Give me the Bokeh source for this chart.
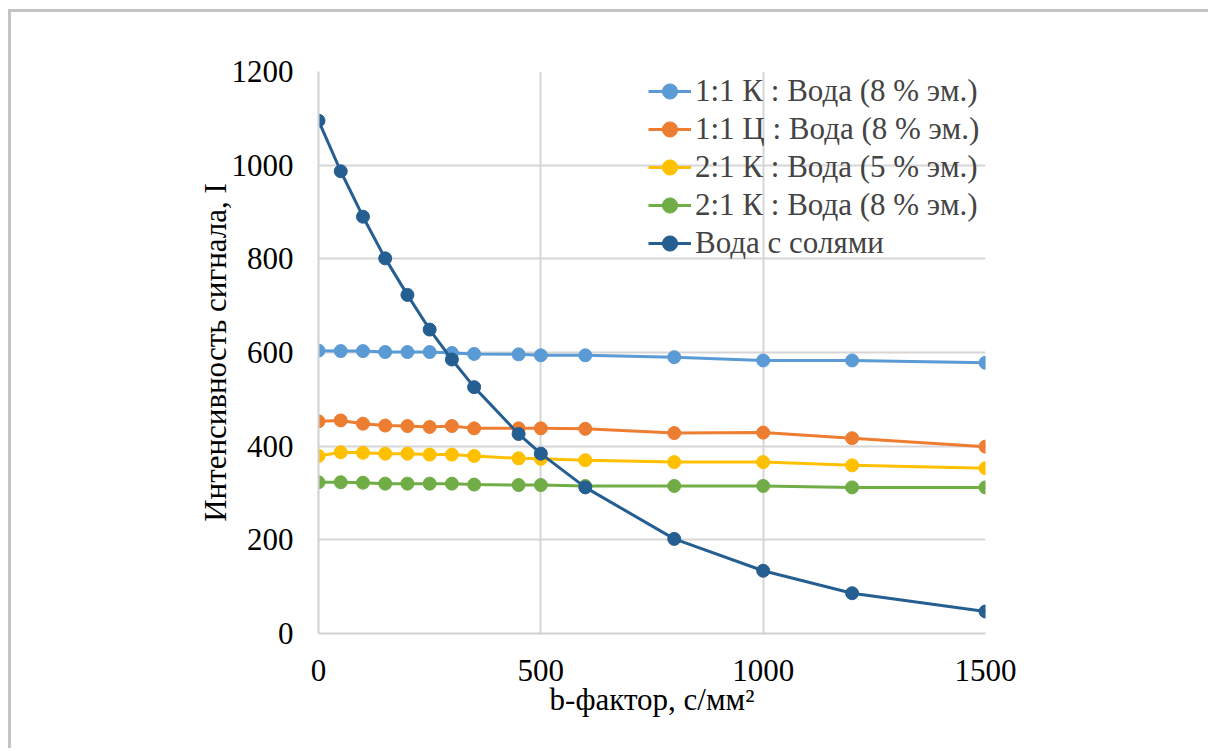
from bokeh.plotting import figure
from bokeh.models import Range1d, FixedTicker, Legend, LegendItem
from bokeh.embed import file_html
from bokeh.resources import INLINE

b_factor = [0, 50, 100, 150, 200, 250, 300, 350, 450, 500, 600, 800, 1000, 1200, 1500]

series_names = [
    "1:1 К : Вода (8 % эм.)",
    "1:1 Ц : Вода (8 % эм.)",
    "2:1 К : Вода (5 % эм.)",
    "2:1 К : Вода (8 % эм.)",
    "Вода с солями",
]
k11_8 = [604, 603, 603, 601, 601, 601, 599, 597, 596, 594, 594, 590, 583, 583, 578]
c11_8 = [453, 455, 448, 444, 443, 441, 443, 438, 438, 438, 437, 428, 429, 417, 399]
k21_5 = [379, 387, 386, 384, 384, 382, 382, 379, 374, 373, 370, 366, 366, 359, 353]
k21_8 = [323, 323, 322, 320, 320, 320, 320, 318, 317, 317, 315, 315, 315, 312, 312]
water_salts = [1095, 987, 890, 801, 723, 649, 585, 526, 426, 384, 312, 202, 134, 86, 47]

colors = ["#5B9BD5", "#ED7D31", "#FFC000", "#70AD47", "#255E91"]
values = [k11_8, c11_8, k21_5, k21_8, water_salts]

x_ticks = [0, 500, 1000, 1500]
y_ticks = [0, 200, 400, 600, 800, 1000, 1200]

FONT = "Liberation Serif"
FS = "31px"

W = 1207
p = figure(width=W, height=739, output_backend="svg", toolbar_location=None,
           x_range=Range1d(0, 1500), y_range=Range1d(0, 1200),
           min_border_left=307, min_border_right=W - 974, min_border_top=59, min_border_bottom=118)
p.styles = {"margin-left": "8px", "margin-top": "9px",
            "border-left": "3px solid #c4c4c4", "border-top": "3px solid #c4c4c4"}
p.outline_line_color = None
p.background_fill_color = "white"
p.border_fill_color = "white"

for ax in (p.xaxis[0], p.yaxis[0]):
    ax.axis_line_color = "#d0d0d0"
    ax.axis_line_width = 2
    ax.major_tick_line_color = None
    ax.minor_tick_line_color = None
    ax.major_label_text_font = FONT
    ax.major_label_text_font_size = FS
    ax.major_label_text_color = "black"
    ax.axis_label_text_font = FONT
    ax.axis_label_text_font_size = FS
    ax.axis_label_text_font_style = "normal"
    ax.axis_label_text_color = "black"

p.xaxis.ticker = FixedTicker(ticks=x_ticks)
p.yaxis.ticker = FixedTicker(ticks=y_ticks)
p.xaxis.major_label_standoff = 20
p.yaxis.major_label_standoff = 19
p.xaxis.axis_label = "b-фактор, с/мм²"
p.yaxis.axis_label = "Интенсивность сигнала, I"
p.xaxis.axis_label_standoff = -2
p.yaxis.axis_label_standoff = -4

p.xgrid.grid_line_color = "#d6d6d6"
p.ygrid.grid_line_color = "#d6d6d6"
p.xgrid.grid_line_width = 2
p.ygrid.grid_line_width = 2

items = []
for name, vals, col in zip(series_names, values, colors):
    r1 = p.line(b_factor, vals, line_color=col, line_width=3)
    r2 = p.scatter(b_factor, vals, size=13, fill_color=col, line_color=col)
    items.append(LegendItem(label=name, renderers=[r1, r2]))

legend = Legend(items=items, location=(330, 371), background_fill_alpha=0,
                border_line_color=None, label_text_font=FONT, label_text_font_size=FS,
                label_height=38, glyph_height=38, glyph_width=43, spacing=0,
                padding=2, margin=0, label_standoff=4)
p.add_layout(legend, "center")

html = file_html(p, INLINE)
html = html.replace("</head>", "<style>html, body { overflow: hidden; }</style></head>", 1)
open("out.html", "w").write(html)
